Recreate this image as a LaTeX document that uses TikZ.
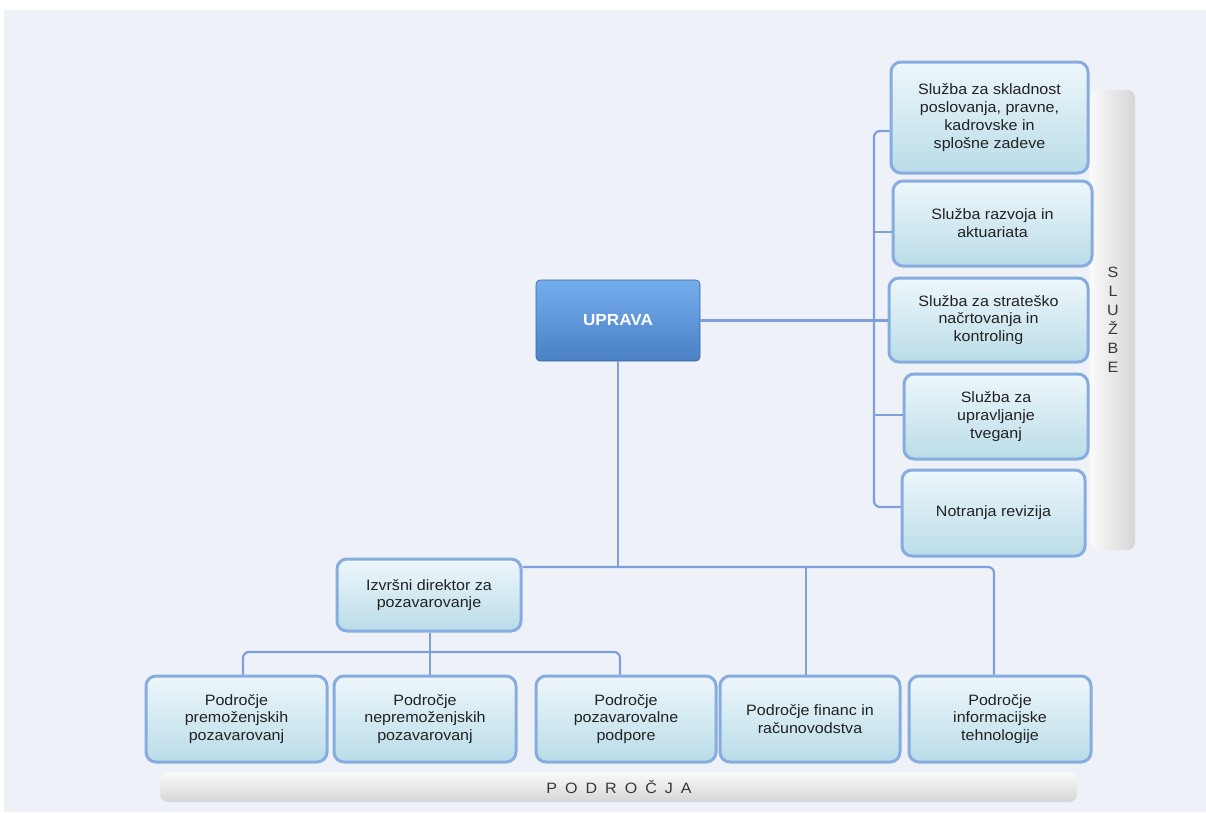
\documentclass[tikz,border=0pt]{standalone}
\usepackage{fontspec}
\setmainfont{Liberation Sans}
\newfontfamily\boxfont[FakeStretch=1.07]{Liberation Sans}
\usetikzlibrary{calc}
\definecolor{bgc}{HTML}{EEF1F8}
\definecolor{bord}{HTML}{86ACE0}
\definecolor{ftop}{HTML}{EEF7FB}
\definecolor{fbot}{HTML}{B9DCE8}
\definecolor{utop}{HTML}{74ADEE}
\definecolor{ubot}{HTML}{4A80C4}
\definecolor{connc}{HTML}{7D9FDA}
\definecolor{txt}{HTML}{222222}
\definecolor{barl}{HTML}{FAFAFA}
\definecolor{bard}{HTML}{D6D6D6}
\tikzset{
  unitbox/.style={draw=bord, line width=3pt, rounded corners=10pt, top color=ftop, bottom color=fbot,
    align=center, text=txt, inner sep=0pt, font=\boxfont\fontsize{15}{17.8}\selectfont},
  topbox/.style={draw=ubot!80!black, line width=0.6pt, rounded corners=4pt, top color=utop, bottom color=ubot,
    align=center, text=white, inner sep=0pt, font=\boxfont\fontsize{16}{18}\selectfont\bfseries},
  conn/.style={draw=connc, line width=2.2pt},
}
\newcommand{\ubox}[6]{\node[unitbox, minimum width=#4pt, minimum height=#5pt] (#1) at (#2,#3) {#6};}
\begin{document}
\begin{tikzpicture}[x=1pt,y=-1pt]
\useasboundingbox (0,0) rectangle (1206,812);
\fill[white] (0,0) rectangle (1206,812);
\fill[bgc] (4,10) rectangle (1206,812);
% side bars
\shade[left color=barl, right color=bard, rounded corners=8pt] (1090,90) rectangle (1135,550);
\shade[top color=barl, bottom color=bard, rounded corners=8pt] (160,772) rectangle (1077,802);
\node[text=txt!90, font=\boxfont\fontsize{15}{19}\selectfont, align=center] (sl) at (1113,320) {S\\L\\U\\Ž\\B\\E};
\node[text=txt!90, font=\boxfont\fontsize{15}{17}\selectfont] (pd) at (619,787) {P\hspace{8pt}O\hspace{8pt}D\hspace{8pt}R\hspace{8pt}O\hspace{8pt}Č\hspace{8pt}J\hspace{8pt}A};
% top
\node[topbox, minimum width=164pt, minimum height=81pt] (up) at (618,320.5) {UPRAVA};
% services
\ubox{s1}{989.5}{117.5}{197}{111}{Služba za skladnost\\poslovanja, pravne,\\kadrovske in\\splošne zadeve}
\ubox{s2}{992.5}{223.5}{199}{85}{Služba razvoja in\\aktuariata}
\ubox{s3}{988.5}{320}{199}{84}{Služba za strateško\\načrtovanja in\\kontroling}
\ubox{s4}{996}{416.5}{184}{85}{Služba za\\upravljanje\\tveganj}
\ubox{s5}{993.5}{513}{183}{86}{Notranja revizija}
% director
\ubox{iz}{429}{595}{184}{72}{Izvršni direktor za\\pozavarovanje}
% areas
\ubox{p1}{236.5}{719}{181}{86}{Področje\\premoženjskih\\pozavarovanj}
\ubox{p2}{425}{719}{182}{86}{Področje\\nepremoženjskih\\pozavarovanj}
\ubox{p3}{626}{719}{180}{86}{Področje\\pozavarovalne\\podpore}
\ubox{p4}{810}{719}{180}{86}{Področje financ in\\računovodstva}
\ubox{p5}{1000}{719}{182}{86}{Področje\\informacijske\\tehnologije}
% connectors
\coordinate (tt) at (874,131);
\coordinate (tb) at (874,507);
\coordinate (j2) at (874,232);
\coordinate (j4) at (874,415);
\draw[conn] (up.east) -- (s3.west |- up.east);
\draw[conn, rounded corners=6pt] (s1.west |- tt) -- (tt) -- (tb) -- (s5.west |- tb);
\draw[conn] (j2) -- (s2.west |- j2);
\draw[conn] (j4) -- (s4.west |- j4);
\coordinate (bus) at (618,567);
\coordinate (b4) at (806,567);
\coordinate (b5) at (994,567);
\draw[conn] (up.south) -- (bus);
\draw[conn, rounded corners=6pt] (iz.east |- bus) -- (b5) -- (b5 |- p5.north);
\draw[conn] (b4) -- (b4 |- p4.north);
\coordinate (sb1) at (243,652);
\coordinate (sb3) at (620,652);
\coordinate (sbm) at (430,652);
\draw[conn] (iz.south -| sbm) -- (sbm |- p2.north);
\draw[conn, rounded corners=6pt] (sb1 |- p1.north) -- (sb1) -- (sb3) -- (sb3 |- p3.north);
\end{tikzpicture}
\end{document}
